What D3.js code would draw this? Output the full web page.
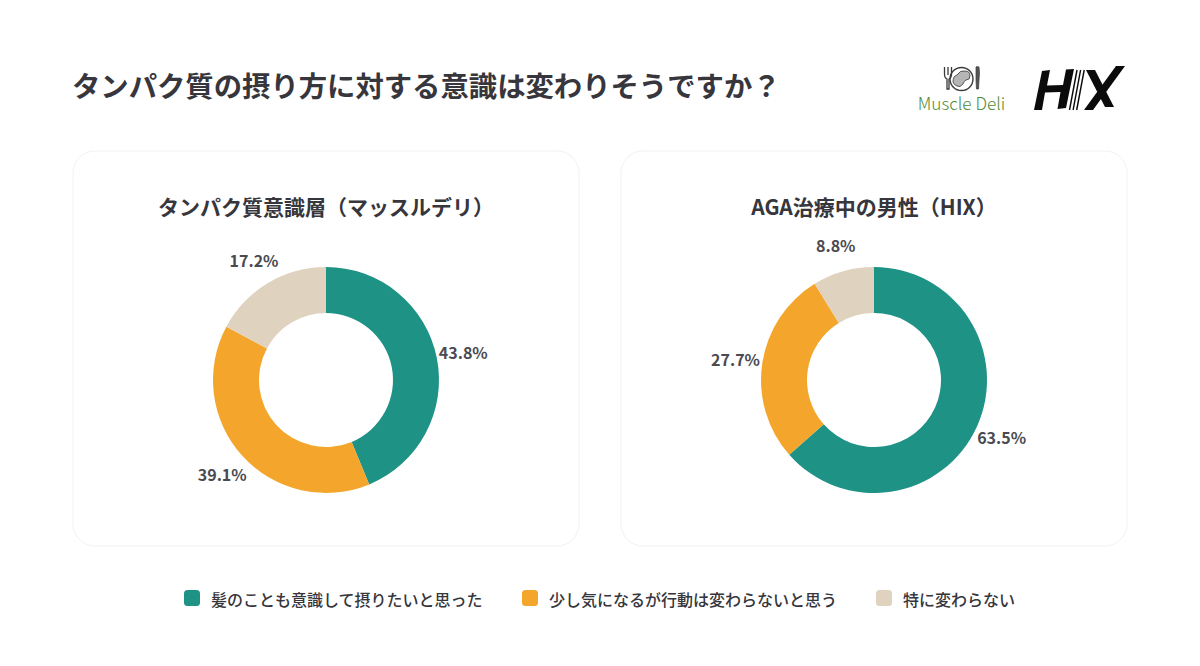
<!DOCTYPE html>
<html lang="ja">
<head>
<meta charset="utf-8">
<style>
  html, body { margin: 0; padding: 0; background: #fff; }
  svg { display: block; }
  text { font-family: "Noto Sans CJK JP", "Noto Sans", sans-serif; }
</style>
<script src="https://cdn.jsdelivr.net/npm/d3@7/dist/d3.min.js"></script>
</head>
<body>
<svg id="chart" width="1200" height="666"></svg>
<script>
const mainTitle = "タンパク質の摂り方に対する意識は変わりそうですか？";
const categories = ["髪のことも意識して摂りたいと思った", "少し気になるが行動は変わらないと思う", "特に変わらない"];
const colors = ["#1f9286", "#f3a62b", "#dfd2bf"];
const panelTitles = ["タンパク質意識層（マッスルデリ）", "AGA治療中の男性（HIX）"];
const muscleDeliValues = [43.8, 39.1, 17.2];
const hixValues = [63.5, 27.7, 8.8];

const svg = d3.select("#chart");
const ink = "#36363c";

svg.append("text").attr("x", 72).attr("y", 97)
  .attr("font-size", 28.35).attr("font-weight", 700).attr("fill", ink)
  .text(mainTitle);

// Panels, each holding one donut
const panels = [
  { x: 73, title: panelTitles[0], values: muscleDeliValues },
  { x: 621, title: panelTitles[1], values: hixValues }
];
const panelW = 506, panelH = 395, panelY = 151;
const outerR = 113, innerR = 67;

const pie = d3.pie().sort(null).value(d => d);
const arc = d3.arc().innerRadius(innerR).outerRadius(outerR);
const labelArc = d3.arc().innerRadius(outerR + 27).outerRadius(outerR + 27);

panels.forEach(p => {
  const g = svg.append("g").attr("transform", `translate(${p.x},${panelY})`);
  g.append("rect").attr("width", panelW).attr("height", panelH).attr("rx", 22)
    .attr("fill", "#fff").attr("stroke", "#f4f0f5").attr("stroke-width", 1);
  g.append("text").attr("x", panelW / 2).attr("y", 64).attr("text-anchor", "middle")
    .attr("font-size", 21).attr("font-weight", 700).attr("fill", ink).text(p.title);

  const donut = g.append("g").attr("transform", `translate(${panelW / 2},229)`);
  const slices = pie(p.values);
  donut.selectAll("path").data(slices).join("path")
    .attr("d", arc).attr("fill", (d, i) => colors[i]);
  donut.selectAll("text").data(slices).join("text")
    .attr("transform", d => `translate(${labelArc.centroid(d)})`)
    .attr("text-anchor", "middle").attr("dy", "0.42em")
    .attr("font-size", 16).attr("font-weight", 700).attr("fill", "#4a4a50")
    .text(d => d3.format(".1f")(d.data) + "%");
});

// Legend
const legendItems = [{ x: 184, tx: 211 }, { x: 522, tx: 549 }, { x: 876, tx: 903 }];
const legend = svg.append("g").attr("transform", "translate(0,598)");
legend.selectAll("rect").data(categories).join("rect")
  .attr("x", (d, i) => legendItems[i].x).attr("y", -8).attr("width", 16).attr("height", 16).attr("rx", 3.5)
  .attr("fill", (d, i) => colors[i]);
legend.selectAll("text").data(categories).join("text")
  .attr("x", (d, i) => legendItems[i].tx).attr("y", 7.5)
  .attr("font-size", 16).attr("font-weight", 500).attr("fill", ink).text(d => d);

// Muscle Deli brand mark
const md = svg.append("g");
md.append("text").attr("x", 961.5).attr("y", 110).attr("text-anchor", "middle")
  .attr("font-size", 17.2).attr("font-weight", 300).attr("fill", "#4f8a35")
  .attr("font-family", "Lato, sans-serif").text("Muscle Deli");
md.append("circle").attr("cx", 961.5).attr("cy", 79).attr("r", 11.5)
  .attr("fill", "#fff").attr("stroke", "#3a3a3a").attr("stroke-width", 1.4);
md.append("path").attr("d", "M953 82q0-6 4-7q3-5 8-4q5 0 5 5q0 4-4 4q-2 1-3 4q-3 4-6 2q-3-1-4-4z")
  .attr("fill", "#b5b5b5").attr("stroke", "#3a3a3a").attr("stroke-width", 0.8);
md.append("path").attr("d", "M944.5 67v7q0 4 2.5 5v10h2v-10q2.5-1 2.5-5v-7M948 67v8")
  .attr("fill", "none").attr("stroke", "#3a3a3a").attr("stroke-width", 1.3);
md.append("path").attr("d", "M976 67q1.5-1 3 0q1 6 0 13l-0.5 9h-2l-0.5-9z")
  .attr("fill", "#555").attr("stroke", "#3a3a3a").attr("stroke-width", 0.7);

// HIX brand mark
const hix = svg.append("g").attr("fill", "#0b0b0b");
hix.append("path").attr("d", "M1034 110L1042 71L1050 70L1047 85.5L1063 85L1066 69.5L1074 69L1066 108L1057.5 109L1060.5 92L1045 92.5L1042 110Z");
hix.append("path").attr("d", "M1086 70L1095 70L1114 107L1105 107Z");
hix.append("path").attr("d", "M1116 66L1125 66L1093 110L1084 110Z");
hix.append("g").attr("stroke", "#0b0b0b").attr("stroke-width", 1.4)
  .selectAll("line").data([0, 3.6, 7.2]).join("line")
  .attr("x1", d => 1069.5 + d).attr("y1", 110).attr("x2", d => 1077 + d).attr("y2", 70);
</script>
</body>
</html>
